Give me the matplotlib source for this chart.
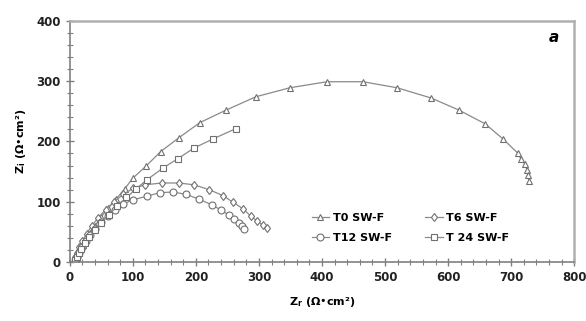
"""Nyquist plot, SW-F samples (panel a)."""
import numpy as np
import matplotlib
matplotlib.use("Agg")
import matplotlib.pyplot as plt
from matplotlib.ticker import MultipleLocator

# Zr, Zi (Ohm cm2)
t0_zr = [8, 9, 10, 12, 14, 17, 21, 26, 32, 40, 50, 61, 74, 87, 100, 121, 144, 173, 206,
         248, 295, 349, 408, 465, 519, 573, 617, 659, 687, 710, 716, 722, 725, 727, 728]
t0_zi = [0, 3, 6, 10, 15, 21, 28, 37, 48, 60, 75, 89, 105, 121, 139, 159, 183, 206, 231,
         252, 274, 289, 299, 299, 289, 272, 252, 229, 204, 181, 170, 162, 153, 144, 135]

t6_zr = [8, 9, 11, 15, 20, 27, 35, 45, 57, 70, 85, 100, 120, 146, 173, 197, 221, 243,
         259, 275, 287, 297, 306, 313]
t6_zi = [3, 8, 15, 24, 35, 47, 60, 73, 87, 100, 112, 122, 128, 131, 131, 128, 120, 110,
         99, 88, 76, 68, 61, 56]

t12_zr = [9, 10, 12, 15, 19, 25, 32, 40, 49, 60, 72, 85, 100, 122, 143, 164, 185, 205,
          225, 240, 252, 261, 268, 273, 276]
t12_zi = [0, 3, 8, 15, 24, 34, 44, 55, 66, 77, 87, 96, 103, 109, 115, 116, 112, 104,
          95, 86, 78, 71, 64, 59, 55]

t24_zr = [8, 9, 11, 14, 18, 24, 31, 40, 50, 62, 75, 90, 105, 122, 148, 171, 197, 227, 263]
t24_zi = [1, 4, 8, 14, 22, 31, 41, 53, 65, 78, 92, 107, 121, 136, 156, 171, 189, 204, 221]

labels = ["T0 SW-F", "T6 SW-F", "T12 SW-F", "T 24 SW-F"]

fig = plt.figure(figsize=(5.86, 3.21), dpi=100)
ax = fig.add_axes([0.119, 0.184, 0.861, 0.751])

line_kw = dict(color="#8a8a8a", lw=0.9, mfc="white", mec="#707070", mew=0.8)
h0, = ax.plot(t0_zr, t0_zi, marker="^", ms=5, label=labels[0], **line_kw)
h6, = ax.plot(t6_zr, t6_zi, marker="d", ms=4.5, label=labels[1], **line_kw)
h12, = ax.plot(t12_zr, t12_zi, marker="o", ms=5, label=labels[2], **line_kw)
h24, = ax.plot(t24_zr, t24_zi, marker="s", ms=5, label=labels[3], **line_kw)

ax.set_xlim(0, 800)
ax.set_ylim(0, 400)
ax.xaxis.set_major_locator(MultipleLocator(100))
ax.xaxis.set_minor_locator(MultipleLocator(20))
ax.yaxis.set_major_locator(MultipleLocator(100))
ax.yaxis.set_minor_locator(MultipleLocator(20))
ax.tick_params(which="major", direction="inout", length=6, width=1, color="#808080", labelsize=8.5)
ax.tick_params(which="minor", direction="inout", length=4, width=0.8, color="#808080")
for lab in ax.get_xticklabels() + ax.get_yticklabels():
    lab.set_fontweight("bold")
    lab.set_color("#222222")

for side in ["left", "bottom"]:
    ax.spines[side].set_color("#808080")
    ax.spines[side].set_linewidth(1.2)
for side in ["top", "right"]:
    ax.spines[side].set_color("#b0b0b0")
    ax.spines[side].set_linewidth(1.8)

ax.set_xlabel("Z$_\\mathbf{r}$ (Ω•cm²)", fontsize=8, fontweight="bold", labelpad=8)
ax.set_ylabel("Z$_\\mathbf{i}$ (Ω•cm²)", fontsize=8, fontweight="bold", labelpad=6)

ax.text(0.97, 0.93, "a", transform=ax.transAxes, fontsize=11, fontweight="bold",
        fontstyle="italic", ha="right", va="center")

# row-wise order: T0, T6 / T12, T24
ax.legend([h0, h12, h6, h24], [labels[0], labels[2], labels[1], labels[3]],
          ncol=2, loc="center", bbox_to_anchor=(0.675, 0.14), frameon=False,
          prop=dict(size=8, weight="bold"), handlelength=1.6, handletextpad=0.3,
          columnspacing=3.0, labelspacing=0.9)

plt.savefig("out.png", dpi=100)
plt.close()
